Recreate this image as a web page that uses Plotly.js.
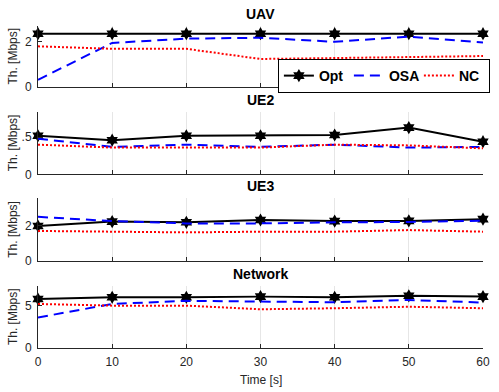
<!DOCTYPE html>
<html>
<head>
<meta charset="utf-8">
<script src="https://cdn.plot.ly/plotly-3.0.1.min.js"></script>
<style>
  html, body { margin: 0; padding: 0; background: #fff; }
  #chart { width: 499px; height: 392px; }
</style>
</head>
<body>
<div id="chart"></div>
<script>
// time axis
var time = [0, 10, 20, 30, 40, 50, 60];

// UAV throughput [Mbps]
var uavOpt = [2.36, 2.36, 2.36, 2.36, 2.36, 2.36, 2.36];
var uavOSA = [0.32, 1.95, 2.14, 2.18, 2.00, 2.23, 1.97];
var uavNC = [1.80, 1.69, 1.69, 1.24, 1.28, 1.33, 1.37];

// UE2
var ue2Opt = [0.52, 0.46, 0.52, 0.52, 0.53, 0.63, 0.44];
var ue2OSA = [0.48, 0.37, 0.40, 0.37, 0.40, 0.36, 0.37];
var ue2NC = [0.40, 0.36, 0.36, 0.36, 0.40, 0.39, 0.35];

// UE3
var ue3Opt = [1.98, 2.23, 2.19, 2.32, 2.26, 2.27, 2.37];
var ue3OSA = [2.50, 2.26, 2.13, 2.13, 2.19, 2.21, 2.28];
var ue3NC = [1.70, 1.64, 1.62, 1.66, 1.66, 1.75, 1.66];

// Network
var netOpt = [5.82, 6.02, 6.02, 6.10, 6.02, 6.20, 6.10];
var netOSA = [3.62, 5.23, 5.60, 5.50, 5.43, 5.70, 5.40];
var netNC = [5.23, 5.03, 5.03, 4.60, 4.72, 4.90, 4.72];

// y tick labels per panel (left edge of "0.5" is cut off in the original)
var ytickVals = [[0, 2], [0, 0.5], [0, 2], [0, 5]];
var ytickText = [['0', '2'], ['0', '.5'], ['0', '2'], ['0', '5']];

var panelNames = ['UAV', 'UE2', 'UE3', 'Network'];
var optSets = [uavOpt, ue2Opt, ue3Opt, netOpt];
var osaSets = [uavOSA, ue2OSA, ue3OSA, netOSA];
var ncSets = [uavNC, ue2NC, ue3NC, netNC];

var data = [];
for (var i = 0; i < 4; i++) {
    var ax = i === 0 ? '' : String(i + 1);
    data.push({
        x: time, y: optSets[i], name: 'Opt', type: 'scatter', mode: 'lines+markers',
        xaxis: 'x' + ax, yaxis: 'y' + ax, showlegend: i === 0, cliponaxis: false,
        line: {color: '#000000', width: 2},
        marker: {symbol: 'hexagram', size: 10, color: '#000000'}
    });
    data.push({
        x: time, y: osaSets[i], name: 'OSA', type: 'scatter', mode: 'lines',
        xaxis: 'x' + ax, yaxis: 'y' + ax, showlegend: i === 0,
        line: {color: '#0000ff', width: 2, dash: '10px,6px'}
    });
    data.push({
        x: time, y: ncSets[i], name: 'NC', type: 'scatter', mode: 'lines',
        xaxis: 'x' + ax, yaxis: 'y' + ax, showlegend: i === 0,
        line: {color: '#ff0000', width: 2, dash: '2px,2px'}
    });
}

var axisColor = '#262626';
var font = {family: 'Liberation Sans, Arial, sans-serif', size: 12, color: axisColor};

function xAxis(dom, showLabels) {
    return {
        domain: [0, 1], range: [0, 60], tickvals: time, showticklabels: showLabels,
        ticks: 'inside', ticklen: 4, tickcolor: axisColor, showline: true, linecolor: axisColor,
        linewidth: 1, showgrid: true, gridcolor: '#e6e6e6', zeroline: false, anchor: dom,
        tickfont: {size: 12, color: axisColor}, ticklabelstandoff: 3
    };
}
function yAxis(k, range) {
    return {
        domain: doms[k], range: range, tickvals: ytickVals[k], ticktext: ytickText[k],
        ticks: 'inside', ticklen: 4, ticklabelstandoff: 3,
        tickcolor: axisColor, showline: true, linecolor: axisColor, linewidth: 1,
        showgrid: false, zeroline: false, tickfont: {size: 12, color: axisColor}
    };
}

var doms = [[0.8106, 1], [0.5394, 0.7329], [0.2702, 0.4649], [0, 0.1925]];

var annotations = [];
for (var k = 0; k < 4; k++) {
    annotations.push({
        text: '<b>' + panelNames[k] + '</b>', xref: 'paper', yref: 'paper',
        x: 0.5, y: doms[k][1] + 0.037, xanchor: 'center', yanchor: 'middle',
        showarrow: false, font: {size: 14, color: '#000'}
    });
    annotations.push({
        text: 'Th. [Mbps]', xref: 'paper', yref: 'paper', textangle: -90,
        x: -0.056, y: (doms[k][0] + doms[k][1]) / 2, xanchor: 'center', yanchor: 'middle',
        showarrow: false, font: {size: 12, color: axisColor}
    });
}
annotations.push({
    text: 'Time [s]', xref: 'paper', yref: 'paper', x: 0.5, y: -0.1,
    xanchor: 'center', yanchor: 'middle', showarrow: false, font: {size: 12, color: axisColor}
});

var layout = {
    width: 499, height: 392,
    margin: {l: 38, r: 9, t: 26, b: 44},
    paper_bgcolor: '#ffffff', plot_bgcolor: '#ffffff',
    font: font,
    showlegend: true,
    legend: {
        orientation: 'h', x: 1.0155, y: 0.8975, xanchor: 'right', yanchor: 'top',
        bgcolor: '#ffffff', bordercolor: '#000000', borderwidth: 1,
        font: {size: 14, color: '#000', weight: 'bold'}, entrywidth: 25, entrywidthmode: 'pixels',
        tracegroupgap: 0
    },
    xaxis: xAxis('y', false),
    xaxis2: xAxis('y2', false),
    xaxis3: xAxis('y3', false),
    xaxis4: xAxis('y4', true),
    yaxis: yAxis(0, [0, 2.7]),
    yaxis2: yAxis(1, [0, 0.84]),
    yaxis3: yAxis(2, [0, 3.55]),
    yaxis4: yAxis(3, [0, 7.36]),
    annotations: annotations
};

Plotly.newPlot('chart', data, layout, {displayModeBar: false, responsive: false});
</script>
</body>
</html>
